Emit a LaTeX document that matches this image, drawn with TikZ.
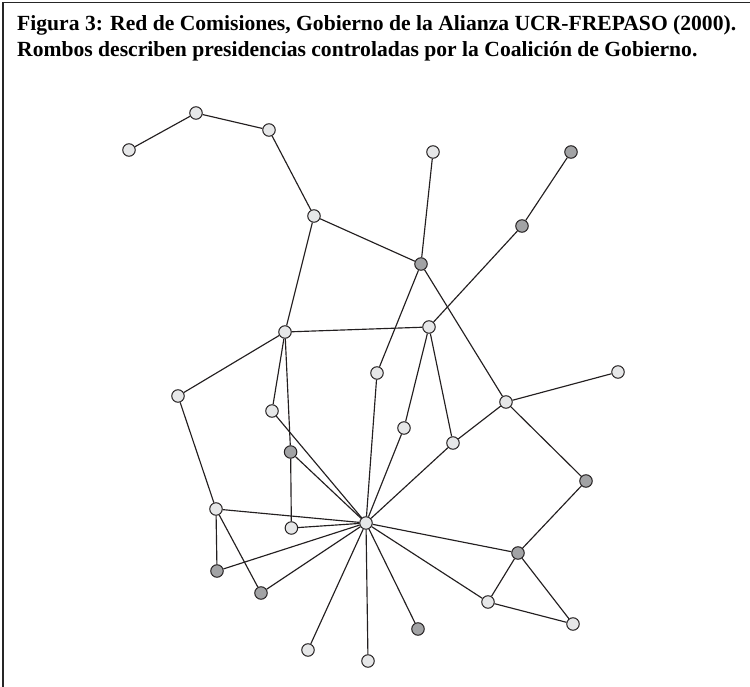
\documentclass[tikz,border=0pt]{standalone}
\usepackage{fontspec}
\setmainfont{Liberation Serif}
\definecolor{edgec}{HTML}{231F20}
\definecolor{lightn}{HTML}{E6E7E8}
\definecolor{darkn}{HTML}{A2A3A5}
\begin{document}
\begin{tikzpicture}[x=1pt,y=-1pt,
  lnode/.style={circle,draw=edgec,fill=lightn,line width=1pt,minimum size=12.5pt,inner sep=0pt},
  dnode/.style={circle,draw=edgec,fill=darkn,line width=1pt,minimum size=12.5pt,inner sep=0pt},
  edge/.style={draw=edgec,line width=1.15pt},
  title/.style={anchor=base west,inner sep=0pt,font=\bfseries\fontsize{21.6}{25}\selectfont}]
\useasboundingbox (0,0) rectangle (750,687);
\draw[line width=1.2pt,black!85] (3,687) -- (3,2.5) -- (750,2.5);
\node[title] (t1) at (17,30.5) {Figura 3: Red de Comisiones, Gobierno de la Alianza UCR-FREPASO (2000).};
\node[title] (t2) at (17,57) {Rombos describen presidencias controladas por la Coalición de Gobierno.};
% nodes
\node[lnode] (n1) at (129,150) {};
\node[lnode] (n2) at (196,113) {};
\node[lnode] (n3) at (269,130) {};
\node[lnode] (n4) at (314,216) {};
\node[dnode] (n5) at (421,264) {};
\node[lnode] (n6) at (433,152) {};
\node[dnode] (n7) at (571,152) {};
\node[dnode] (n8) at (522,226) {};
\node[lnode] (n9) at (429,327) {};
\node[lnode] (n10) at (285,332) {};
\node[lnode] (n11) at (178,396) {};
\node[lnode] (n12) at (377,373) {};
\node[lnode] (n13) at (272,411) {};
\node[lnode] (n14) at (506,402) {};
\node[lnode] (n15) at (618,372) {};
\node[lnode] (n16) at (404,428) {};
\node[lnode] (n17) at (453,443) {};
\node[dnode] (n18) at (290.6,452) {};
\node[lnode] (n19) at (216,509) {};
\node[lnode] (n20) at (291.4,528) {};
\node[lnode] (hub) at (366,523) {};
\node[dnode] (n22) at (586,481) {};
\node[dnode] (n23) at (518,553) {};
\node[dnode] (n24) at (217,571) {};
\node[dnode] (n25) at (261,593) {};
\node[lnode] (n26) at (488,602) {};
\node[lnode] (n27) at (573,624) {};
\node[lnode] (n28) at (308,650) {};
\node[dnode] (n29) at (418,629) {};
\node[lnode] (n30) at (368,661) {};
% edges
\foreach \a/\b in {n1/n2,n2/n3,n3/n4,n4/n5,n4/n10,n5/n6,n5/n12,n5/n14,n7/n8,n8/n9,
  n9/n10,n9/n16,n9/n17,n10/n11,n10/n13,n10/n18,n11/n19,n12/hub,n13/hub,n14/n15,
  n14/n17,n14/n22,n16/hub,n17/hub,n18/n20,n18/hub,n19/n24,n19/n25,n19/hub,n20/hub,
  n22/n23,n23/hub,n23/n26,n23/n27,n26/n27,n26/hub,n24/hub,n25/hub,n28/hub,n29/hub,n30/hub}
  \draw[edge] (\a) -- (\b);
\end{tikzpicture}
\end{document}
